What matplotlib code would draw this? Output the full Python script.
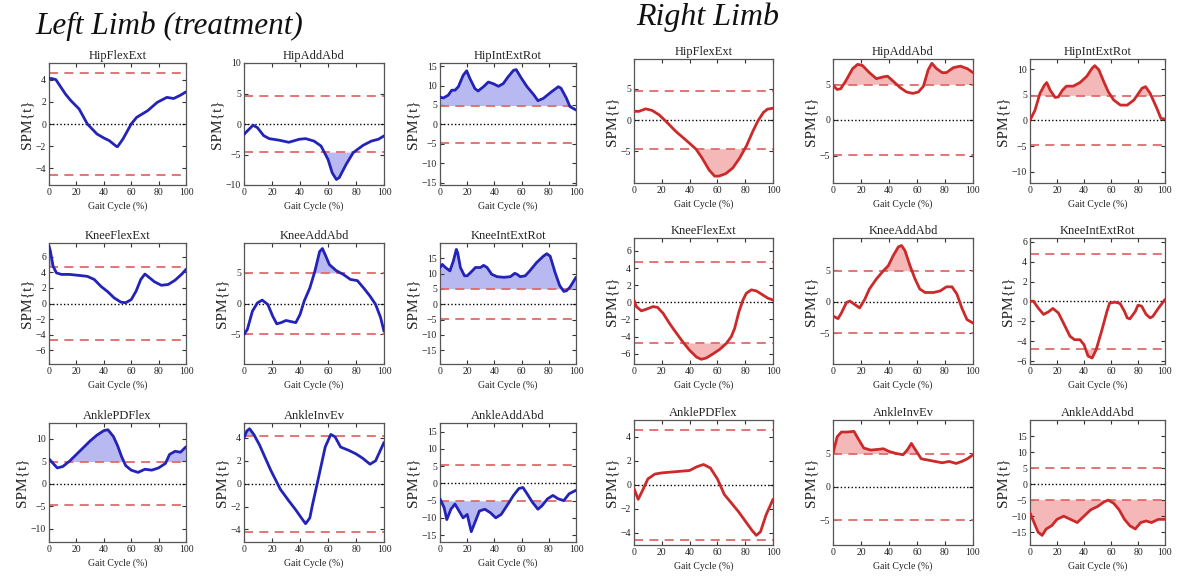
import matplotlib
matplotlib.use("Agg")
import matplotlib.pyplot as plt
import numpy as np

plt.rcParams["font.family"] = ["Liberation Serif", "DejaVu Serif"]

# ---------------- Left limb (treatment) ----------------
l_hipflex_x = [0, 2, 5, 12, 16, 22, 28, 35, 40, 44, 49, 50, 54, 60, 64, 72, 79, 86, 91, 96, 100]
l_hipflex_y = [4.1, 4.1, 4.0, 2.7, 2.1, 1.35, 0.0, -0.9, -1.26, -1.5, -2.0, -2.05, -1.35, 0.0, 0.6, 1.2, 1.95, 2.4, 2.3, 2.6, 2.9]

l_hipadd_x = [0, 3.6, 6.5, 9.6, 14, 18, 25, 32, 39.5, 44, 50, 55, 60, 63, 66, 68, 73, 78, 85, 91, 96, 100]
l_hipadd_y = [-1.7, -0.85, -0.2, -0.6, -1.9, -2.4, -2.65, -3.0, -2.5, -2.4, -2.8, -3.6, -5.8, -8.0, -9.1, -8.8, -6.6, -4.7, -3.5, -2.8, -2.5, -1.95]

l_hiprot_x = [0, 2.5, 6, 8.6, 11, 13.5, 17, 19.6, 22, 25.7, 28, 32, 35.5, 39, 43, 46.5, 50, 54, 56, 60, 64, 69, 72, 76, 82, 87, 89, 93, 95.5, 100]
l_hiprot_y = [7.0, 6.8, 7.5, 8.8, 8.8, 9.7, 12.6, 13.8, 11.8, 9.2, 8.6, 9.7, 10.9, 10.5, 9.8, 10.5, 12.2, 13.9, 14.1, 11.8, 9.7, 7.6, 6.1, 6.7, 8.4, 9.7, 9.3, 6.7, 4.6, 3.7]

l_kneeflex_x = [0, 1, 3, 5.4, 9, 15, 23, 28, 33, 38, 43, 47.5, 52.5, 56, 60, 63.6, 67, 70, 73.5, 77, 82, 87, 92, 97, 100]
l_kneeflex_y = [7.4, 6.75, 4.8, 3.95, 3.75, 3.75, 3.6, 3.5, 3.1, 2.2, 1.5, 0.73, 0.17, 0.1, 0.5, 1.6, 3.1, 3.8, 3.3, 2.8, 2.35, 2.45, 3.0, 3.8, 4.4]

l_kneeadd_x = [0, 2.4, 6, 9.6, 13, 17, 20.5, 23.4, 26.5, 30, 34, 37, 40, 43, 47, 50.6, 54, 56, 58, 61, 66, 71, 76, 81, 85.5, 90, 94, 97.6, 100]
l_kneeadd_y = [-5.0, -4.2, -1.25, 0.1, 0.55, -0.15, -2.05, -3.3, -3.1, -2.75, -2.95, -3.1, -1.8, 0.4, 2.5, 5.2, 8.4, 8.9, 7.9, 6.3, 5.3, 4.7, 3.9, 3.7, 2.5, 1.2, -0.15, -2.3, -4.5]

l_kneerot_x = [0, 1.7, 4, 7.3, 9.8, 12, 13, 15, 18, 20, 23.7, 26, 29.8, 32, 34.6, 38, 42, 47, 51.7, 55, 56.6, 59, 62.7, 66, 71, 76, 78.5, 81, 84.6, 88, 91, 93, 95.6, 100]
l_kneerot_y = [12.0, 13.0, 12.0, 10.9, 14.1, 17.9, 16.8, 12.0, 9.3, 9.3, 10.9, 12.0, 12.0, 12.7, 12.0, 9.8, 9.0, 8.8, 9.0, 10.1, 9.8, 9.0, 9.3, 10.9, 13.6, 15.7, 16.5, 15.7, 10.4, 6.1, 4.2, 4.4, 5.6, 8.8]

l_anklepdf_x = [0, 3, 6, 10, 15, 20, 25, 30, 35, 40, 43, 47, 50, 53, 56, 60, 65, 70, 75, 80, 85, 88, 92, 96, 100]
l_anklepdf_y = [5.5, 4.5, 3.5, 3.8, 5.0, 6.5, 8.0, 9.5, 10.8, 11.8, 12.0, 10.5, 8.5, 6.0, 4.0, 3.0, 2.5, 3.2, 3.0, 3.5, 4.5, 6.5, 7.2, 7.0, 8.2]

l_ankleinv_x = [0, 2, 4, 7, 11, 15, 19, 26, 32, 37, 41, 44, 47, 49, 53, 58, 62, 65, 69, 75, 80, 85, 90, 94, 97, 100]
l_ankleinv_y = [4.0, 4.6, 4.8, 4.3, 3.4, 2.3, 1.2, -0.5, -1.5, -2.3, -3.0, -3.5, -3.0, -1.8, 0.4, 3.2, 4.3, 4.1, 3.2, 2.9, 2.6, 2.2, 1.7, 2.0, 2.8, 3.6]

l_ankleadd_x = [0, 3, 5, 8, 11, 14, 17, 20, 23, 26, 29, 33, 37, 41, 45, 50, 54, 58, 61, 64, 68, 72, 75, 79, 83, 87, 91, 95, 100]
l_ankleadd_y = [-4.5, -7.0, -10.5, -7.5, -6.0, -8.0, -10.0, -9.0, -14.0, -11.0, -8.0, -7.5, -8.5, -10.0, -9.0, -6.0, -3.5, -1.5, -1.2, -3.0, -5.5, -7.5, -6.5, -4.5, -3.5, -4.5, -5.0, -3.0, -2.0]

# ---------------- Right limb ----------------
r_hipflex_x = [0, 3.6, 8.4, 13, 18, 23, 30, 37, 44.6, 49, 54, 58, 61, 66, 71, 76, 81, 85.5, 89, 93, 96, 100]
r_hipflex_y = [1.4, 1.4, 1.8, 1.55, 0.85, -0.2, -1.8, -3.15, -4.65, -6.1, -8.0, -9.0, -9.0, -8.6, -7.7, -6.1, -4.1, -1.8, -0.2, 1.2, 1.75, 1.9]

r_hipadd_x = [0, 3, 5.5, 9, 14, 17.6, 21, 26, 31, 35.7, 39, 43, 48, 52.5, 57, 61, 64.6, 68, 70.6, 74, 78, 81, 86, 91, 96, 100]
r_hipadd_y = [4.8, 4.25, 4.35, 5.4, 7.15, 7.75, 7.6, 6.6, 5.75, 6.0, 6.1, 5.4, 4.5, 3.9, 3.7, 3.9, 4.7, 7.0, 7.9, 7.15, 6.6, 6.6, 7.3, 7.5, 7.15, 6.6]

r_hiprot_x = [0, 3.7, 7.4, 10.7, 12.4, 15, 18.6, 21, 24, 27, 32, 37, 42, 46, 48, 51, 54.6, 58, 62, 67, 72, 77, 83, 85.6, 89, 94, 97, 100]
r_hiprot_y = [0.05, 2.0, 5.3, 6.9, 7.4, 5.9, 4.5, 4.6, 5.9, 6.7, 6.7, 7.4, 8.6, 10.2, 10.7, 9.9, 7.6, 5.6, 4.0, 3.0, 3.0, 4.0, 6.3, 6.6, 5.3, 2.35, 0.4, 0.3]

r_kneeflex_x = [0, 1.7, 5.3, 9, 13.7, 17, 21, 25.7, 30.5, 35, 40, 45, 48.4, 52, 57, 61.6, 66.4, 70, 72.4, 75.5, 78.4, 80.8, 84.4, 88, 92.6, 96.4, 100]
r_kneeflex_y = [0.25, -0.5, -1.0, -0.8, -0.5, -0.6, -1.3, -2.5, -3.6, -4.6, -5.6, -6.4, -6.65, -6.5, -6.0, -5.5, -4.8, -4.0, -3.05, -1.1, 0.27, 1.05, 1.45, 1.33, 0.86, 0.47, 0.27]

r_kneeadd_x = [0, 3.6, 6, 9.6, 12, 15.5, 19, 22.7, 26, 31, 36, 39.5, 43, 46.7, 49, 51.4, 55, 58.6, 62, 65.8, 71.8, 76.6, 81, 85, 88.5, 92, 95.7, 100]
r_kneeadd_y = [-2.3, -2.7, -1.8, -0.15, 0.1, -0.45, -1.0, 0.37, 2.0, 3.6, 4.9, 5.7, 7.3, 8.7, 8.9, 8.1, 5.7, 3.6, 2.0, 1.45, 1.45, 1.7, 2.35, 2.35, 1.2, -1.0, -2.85, -3.4]

r_kneerot_x = [0, 2.5, 6, 10, 13.6, 17, 21, 24.7, 29.6, 33, 37, 40, 43, 46, 49, 53, 57, 59, 63, 66.7, 70, 72, 74, 78, 80, 82.7, 86, 89, 91, 95, 100]
r_kneerot_y = [0.03, 0.03, -0.64, -1.3, -1.05, -0.7, -1.15, -2.15, -3.5, -3.85, -3.85, -4.35, -5.5, -5.7, -4.86, -3.0, -1.0, -0.15, -0.07, -0.2, -1.0, -1.65, -1.75, -1.0, -0.37, -0.47, -1.3, -1.65, -1.5, -0.7, 0.2]

r_anklepdf_x = [0, 3, 6, 10, 15, 20, 30, 40, 45, 50, 55, 60, 65, 70, 75, 80, 85, 88, 91, 95, 100]
r_anklepdf_y = [-0.3, -1.2, -0.5, 0.5, 0.9, 1.0, 1.1, 1.2, 1.5, 1.7, 1.4, 0.5, -0.8, -1.5, -2.2, -3.0, -3.8, -4.2, -3.9, -2.5, -1.2]

r_ankleinv_x = [0, 3, 6, 10, 15, 18, 22, 27, 32, 36, 40, 45, 50, 53, 56, 59, 63, 68, 73, 78, 83, 88, 92, 96, 100]
r_ankleinv_y = [5.0, 7.5, 8.2, 8.2, 8.3, 7.2, 5.8, 5.5, 5.6, 5.7, 5.3, 5.0, 4.8, 5.5, 6.5, 5.5, 4.2, 4.0, 3.8, 3.6, 3.8, 3.5, 3.8, 4.2, 4.8]

r_ankleadd_x = [0, 3, 6, 9, 12, 16, 20, 25, 30, 35, 40, 45, 50, 55, 58, 62, 66, 70, 74, 78, 82, 86, 90, 95, 100]
r_ankleadd_y = [-9.0, -12.0, -15.0, -16.0, -14.0, -13.0, -11.0, -10.0, -11.0, -12.0, -10.0, -8.0, -7.0, -5.5, -5.0, -6.0, -8.0, -11.0, -13.0, -14.0, -12.0, -11.5, -12.0, -11.0, -11.0]

# Critical thresholds for each SPM{t} trajectory
left_thresholds = [4.6, 4.6, 4.85, 4.7, 4.95, 4.9, 4.8, 4.2, 5.2]
right_thresholds = [4.6, 4.9, 4.8, 4.75, 4.9, 4.8, 4.6, 4.9, 5.0]

left_titles = ["HipFlexExt", "HipAddAbd", "HipIntExtRot",
               "KneeFlexExt", "KneeAddAbd", "KneeIntExtRot",
               "AnklePDFlex", "AnkleInvEv", "AnkleAddAbd"]
right_titles = ["HipFlexExt", "HipAddAbd", "HipIntExtRot",
                "KneeFlexExt", "KneeAddAbd", "KneeIntExtRot",
                "AnklePDFlex", "AnkleInvEv", "AnkleAddAbd"]

left_curves = [(l_hipflex_x, l_hipflex_y), (l_hipadd_x, l_hipadd_y), (l_hiprot_x, l_hiprot_y),
               (l_kneeflex_x, l_kneeflex_y), (l_kneeadd_x, l_kneeadd_y), (l_kneerot_x, l_kneerot_y),
               (l_anklepdf_x, l_anklepdf_y), (l_ankleinv_x, l_ankleinv_y), (l_ankleadd_x, l_ankleadd_y)]
right_curves = [(r_hipflex_x, r_hipflex_y), (r_hipadd_x, r_hipadd_y), (r_hiprot_x, r_hiprot_y),
                (r_kneeflex_x, r_kneeflex_y), (r_kneeadd_x, r_kneeadd_y), (r_kneerot_x, r_kneerot_y),
                (r_anklepdf_x, r_anklepdf_y), (r_ankleinv_x, r_ankleinv_y), (r_ankleadd_x, r_ankleadd_y)]

# Axis ranges and y ticks per panel
left_ylims = [(-5.5, 5.5), (-10, 10), (-15.6, 15.8),
              (-7.8, 7.8), (-9.8, 9.8), (-19.5, 20),
              (-13, 13.5), (-5.1, 5.3), (-17, 17.5)]
left_yticks = [[-4, -2, 0, 2, 4], [-10, -5, 0, 5, 10], [-15, -10, -5, 0, 5, 10, 15],
               [-6, -4, -2, 0, 2, 4, 6], [-5, 0, 5], [-15, -10, -5, 0, 5, 10, 15],
               [-10, -5, 0, 5, 10], [-4, -2, 0, 2, 4], [-15, -10, -5, 0, 5, 10, 15]]
right_ylims = [(-10.1, 9.8), (-8.8, 8.5), (-12.2, 12.0),
               (-7.2, 7.5), (-9.9, 10.1), (-6.3, 6.4),
               (-5.0, 5.4), (-8.7, 10.0), (-19, 20)]
right_yticks = [[-5, 0, 5], [-5, 0, 5], [-10, -5, 0, 5, 10],
                [-6, -4, -2, 0, 2, 4, 6], [-5, 0, 5], [-6, -4, -2, 0, 2, 4, 6],
                [-4, -2, 0, 2, 4], [-5, 0, 5], [-15, -10, -5, 0, 5, 10, 15]]

W, H = 1183, 577
fig = plt.figure(figsize=(W / 100, H / 100), dpi=100)
fig.patch.set_facecolor("white")

# panel boxes in pixels: column left edges/widths, row top/bottom
left_cols = [(49, 137), (244, 140), (440, 136)]
right_cols = [(634, 139), (833, 140), (1030, 135)]
left_rows = [(63, 185), (243, 364), (423, 542)]
right_rows = [(59, 183), (238, 364), (420, 545)]

BLUE = "#2323b8"
BLUE_FILL = "#b9b9f2"
RED = "#cc2a2a"
RED_FILL = "#f5b8b8"
THR = "#e06a6a"


def make_panel(box, title, xs, ys, thr, ylim, yticks, color, fill):
    x0, w, top, bot = box
    ax = fig.add_axes([x0 / W, 1 - bot / H, w / W, (bot - top) / H])
    xs = np.asarray(xs, float)
    ys = np.asarray(ys, float)
    ax.fill_between(xs, ys, thr, where=ys > thr, interpolate=True,
                    color=fill, lw=0, zorder=1)
    ax.fill_between(xs, ys, -thr, where=ys < -thr, interpolate=True,
                    color=fill, lw=0, zorder=1)
    ax.axhline(thr, color=THR, lw=1.3, dashes=(5, 3.5), zorder=2)
    ax.axhline(-thr, color=THR, lw=1.3, dashes=(5, 3.5), zorder=2)
    ax.axhline(0, color="black", lw=1.0, ls=(0, (1, 1.6)), zorder=2)
    ax.plot(xs, ys, color=color, lw=2.0, solid_joinstyle="round",
            solid_capstyle="round", zorder=3)
    ax.set_xlim(0, 100)
    ax.set_ylim(*ylim)
    ax.set_xticks([0, 20, 40, 60, 80, 100])
    ax.set_yticks(yticks)
    ax.tick_params(direction="in", top=True, right=True, length=3, width=0.8,
                   labelsize=7, pad=2, colors="#333333", labelcolor="#222222")
    for s in ax.spines.values():
        s.set_color("#555555")
        s.set_linewidth(0.9)
    ax.set_title(title, fontsize=9, pad=3, color="#222222")
    ax.set_xlabel("Gait Cycle (%)", fontsize=7, labelpad=3, color="#222222")
    ax.set_ylabel("SPM{t}", fontsize=11, labelpad=2, color="#222222")
    return ax


for i in range(9):
    r, c = divmod(i, 3)
    lx, lw = left_cols[c]
    lt, lb = left_rows[r]
    make_panel((lx, lw, lt, lb), left_titles[i], *left_curves[i], left_thresholds[i],
               left_ylims[i], left_yticks[i], BLUE, BLUE_FILL)
    rx, rw = right_cols[c]
    rt, rb = right_rows[r]
    make_panel((rx, rw, rt, rb), right_titles[i], *right_curves[i], right_thresholds[i],
               right_ylims[i], right_yticks[i], RED, RED_FILL)

fig.text(35 / W, 1 - 34 / H, "Left Limb (treatment)", fontsize=22.5, style="italic",
         ha="left", va="baseline", color="#111111")
fig.text(636 / W, 1 - 25 / H, "Right Limb", fontsize=23, style="italic",
         ha="left", va="baseline", color="#111111")

fig.savefig("out.png", dpi=100, facecolor="white")
